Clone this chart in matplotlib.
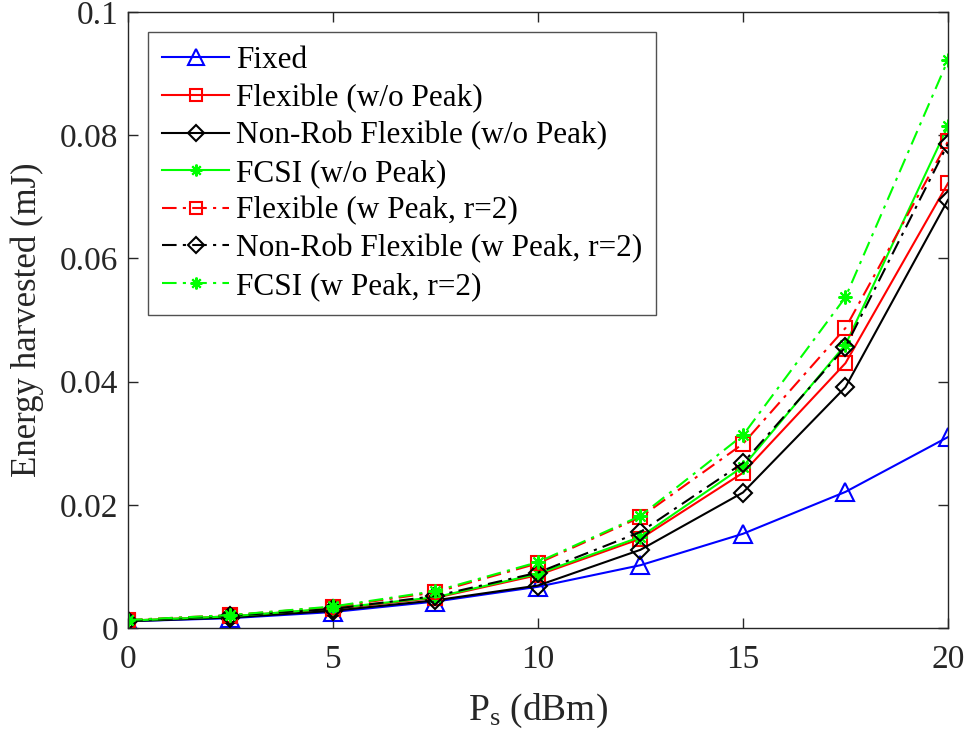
import matplotlib
matplotlib.use("Agg")
import matplotlib.pyplot as plt

plt.rcParams['font.family'] = ['Liberation Serif', 'DejaVu Serif']
plt.rcParams['mathtext.fontset'] = 'custom'
plt.rcParams['mathtext.rm'] = 'Liberation Serif'
plt.rcParams['mathtext.it'] = 'Liberation Serif:italic'

ps = [0, 2.5, 5, 7.5, 10, 12.5, 15, 17.5, 20]
fixed = [0.0011, 0.0016, 0.0026, 0.0043, 0.0067, 0.0102, 0.0153, 0.0221, 0.0310]
flex_wo = [0.0012, 0.0019, 0.0031, 0.0049, 0.0086, 0.0145, 0.0252, 0.0430, 0.0722]
nonrob_wo = [0.0011, 0.0017, 0.0028, 0.0045, 0.0069, 0.0127, 0.0220, 0.0391, 0.0695]
fcsi_wo = [0.0012, 0.0019, 0.0032, 0.0050, 0.0088, 0.0148, 0.0262, 0.0460, 0.0815]
flex_w = [0.0013, 0.0021, 0.0034, 0.0058, 0.0105, 0.0180, 0.0299, 0.0487, 0.0790]
nonrob_w = [0.0012, 0.0020, 0.0031, 0.0052, 0.0090, 0.0156, 0.0268, 0.0456, 0.0786]
fcsi_w = [0.0013, 0.0021, 0.0035, 0.0060, 0.0107, 0.0182, 0.0313, 0.0537, 0.0922]

labels = ['Fixed', 'Flexible (w/o Peak)', 'Non-Rob Flexible (w/o Peak)', 'FCSI (w/o Peak)',
          'Flexible (w Peak, r=2)', 'Non-Rob Flexible (w Peak, r=2)', 'FCSI (w Peak, r=2)']
series = [fixed, flex_wo, nonrob_wo, fcsi_wo, flex_w, nonrob_w, fcsi_w]
colors = ['#0000FF', '#FF0000', '#000000', '#00FF00', '#FF0000', '#000000', '#00FF00']
markers = ['^', 's', 'D', (8, 2, 0), 's', 'D', (8, 2, 0)]
msizes = [13, 9.5, 9, 10, 9.5, 9, 10]
dashdot = (0, (7, 3, 1.5, 3))
styles = ['-', '-', '-', '-', dashdot, dashdot, dashdot]

fig = plt.figure(figsize=(9.68, 7.42), dpi=100)
ax = fig.add_axes([0.1322, 0.1536, 0.8471, 0.8302])

for y, lab, c, m, ms, ls in zip(series, labels, colors, markers, msizes, styles):
    ax.plot(ps, y, color=c, linestyle=ls, marker=m, markersize=ms, markerfacecolor='none',
            markeredgecolor=c, markeredgewidth=1.5, linewidth=1.5, label=lab)

ax.set_xlim(0, 20)
ax.set_ylim(0, 0.1)
ax.set_xticks([0, 5, 10, 15, 20])
ax.set_yticks([0, 0.02, 0.04, 0.06, 0.08, 0.1])
ax.set_yticklabels(['0', '0.02', '0.04', '0.06', '0.08', '0.1'])
ax.tick_params(direction='in', top=True, right=True, labelsize=24, length=7, width=1,
               color='#262626', labelcolor='#262626')
ax.tick_params(axis='y', pad=7)
ax.tick_params(axis='x', pad=12)
for s in ax.spines.values():
    s.set_color('#262626')
    s.set_linewidth(1)
ax.set_xlabel(r'P$_\mathrm{s}$ (dBm)', fontsize=27, labelpad=12, color='#262626')
ax.set_ylabel('Energy harvested (mJ)', fontsize=25, labelpad=11, color='#262626')

leg = ax.legend(loc='upper left', bbox_to_anchor=(0.0244, 0.9675), fontsize=22.5, frameon=True,
                fancybox=False, edgecolor='#262626', handlelength=2.15, handletextpad=0.22,
                labelspacing=0.27, borderpad=0.45, borderaxespad=0, markerscale=0.85)
leg.get_frame().set_linewidth(1)

fig.savefig('out.png', dpi=100)
